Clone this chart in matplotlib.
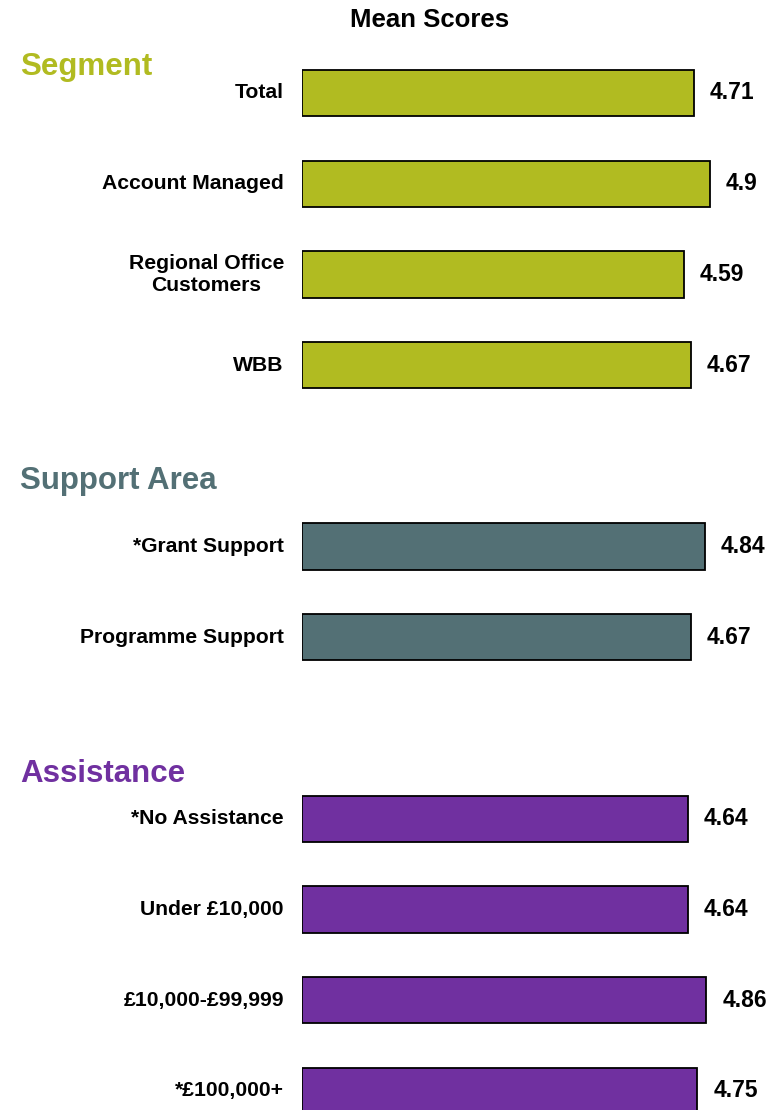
import matplotlib
matplotlib.use('Agg')
import matplotlib.pyplot as plt

# Data
segment_labels = ['Total', 'Account Managed', 'Regional Office\nCustomers', 'WBB']
segment_values = [4.71, 4.9, 4.59, 4.67]

support_labels = ['*Grant Support', 'Programme Support']
support_values = [4.84, 4.67]

assist_labels = ['*No Assistance', 'Under £10,000', '£10,000-£99,999', '*£100,000+']
assist_values = [4.64, 4.64, 4.86, 4.75]

group_names = ['Segment', 'Support Area', 'Assistance']
group_colors = ['#B1BB21', '#537075', '#7030A0']

FONT = 'Liberation Sans'
W, H = 776, 1110

fig = plt.figure(figsize=(W / 100, H / 100), dpi=100)
ax = fig.add_axes([302 / W, 0, (W - 302) / W, 1])

groups = [(segment_labels, segment_values), (support_labels, support_values),
          (assist_labels, assist_values)]

# one empty slot between groups
slot = 0
for (labels, values), color in zip(groups, group_colors):
    ys = list(range(slot, slot + len(values)))
    ax.barh(ys, values, height=0.51, color=color, edgecolor='black', linewidth=1.3)
    for y, lab, v in zip(ys, labels, values):
        ax.annotate(lab, xy=(0, y), xytext=(-13, 0), textcoords='offset points',
                    ha='right', va='center', ma='center', fontsize=15.2,
                    fontweight='bold', family=FONT, annotation_clip=False)
        ax.annotate(f'{v:g}', xy=(v, y), xytext=(11.5, 0), textcoords='offset points',
                    ha='left', va='center', fontsize=16.5, fontweight='bold',
                    family=FONT, annotation_clip=False)
    slot += len(values) + 1

ax.set_xlim(0, (W - 302) / 83.2)
ax.set_ylim(11.21, -1.025)
ax.axis('off')

# headers
header_y = [67, 481, 774]
for name, color, py in zip(group_names, group_colors, header_y):
    fig.text(20 / W, 1 - py / H, name, color=color, fontsize=22.5,
             fontweight='bold', family=FONT, ha='left', va='center')

fig.text(430 / W, 1 - 20 / H, 'Mean Scores', fontsize=18.5, fontweight='bold',
         family=FONT, ha='center', va='center')

fig.savefig('out.png', dpi=100)
